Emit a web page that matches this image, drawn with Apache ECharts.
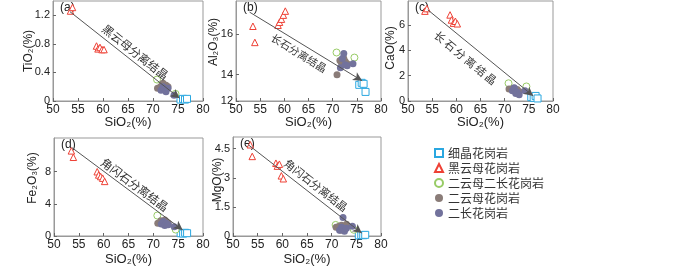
<!DOCTYPE html>
<html>
<head>
<meta charset="utf-8">
<script src="https://cdn.jsdelivr.net/npm/echarts@6/dist/echarts.min.js"></script>
<style>
html, body { margin: 0; padding: 0; background: #fff; }
#main { width: 700px; height: 267px; }
</style>
</head>
<body>
<div id="main"></div>
<script>
// rock groups (legend order)
var groupNames = ['细晶花岗岩', '黑云母花岗岩', '二云母二长花岗岩', '二云母花岗岩', '二长花岗岩'];

// SiO2 (%) of each group
var siFine = [75.5, 76.0, 76.4, 76.8];
var siBio = [53.5, 53.9, 58.7, 59.0, 59.4, 59.8, 60.2];
var siTwoMicaMonzo = [70.8, 74.5];
var siTwoMica = [70.9, 71.5, 71.8, 72.0, 72.3, 72.6, 73.0];
var siMonzo = [71.6, 72.0, 72.3, 72.6, 73.0, 74.2];

// TiO2
var tiFine = [0.02, 0.03, 0.02, 0.03];
var tiBio = [1.26, 1.31, 0.77, 0.73, 0.75, 0.72, 0.72];
var tiTwoMicaMonzo = [0.30, 0.10];
var tiTwoMica = [0.18, 0.20, 0.22, 0.25, 0.17, 0.22, 0.20];
var tiMonzo = [0.15, 0.20, 0.17, 0.13, 0.18, 0.08];

// Al2O3
var alFine = [13.5, 13.6, 13.55, 13.15];
var alBio = [16.4, 15.6, 16.45, 16.6, 16.75, 16.95, 17.15];
var alTwoMicaMonzo = [15.1, 14.85];
var alTwoMica = [14.0, 14.7, 14.6, 14.5, 14.8, 14.65, 14.55];
var alMonzo = [14.35, 14.8, 15.05, 14.5, 14.45, 14.55];

// CaO
var caFine = [0.30, 0.25, 0.40, 0.20];
var caBio = [7.1, 7.3, 6.8, 6.4, 6.15, 6.3, 6.1];
var caTwoMicaMonzo = [1.4, 1.15];
var caTwoMica = [0.95, 0.9, 1.0, 0.8, 0.7, 0.9, 0.75];
var caMonzo = [0.8, 1.05, 0.6, 0.7, 0.5, 0.8];

// Fe2O3
var feFine = [0.35, 0.30, 0.40, 0.35];
var feBio = [10.6, 9.8, 8.0, 7.6, 7.4, 7.2, 6.8];
var feTwoMicaMonzo = [2.55, 0.8];
var feTwoMica = [1.6, 1.9, 1.7, 1.5, 2.0, 1.8, 1.6];
var feMonzo = [1.5, 1.8, 1.3, 1.6, 1.4, 1.15];

// MgO
var mgFine = [0.03, 0.05, 0.04, 0.06];
var mgBio = [4.7, 4.1, 3.75, 3.6, 3.7, 3.1, 2.95];
var mgTwoMicaMonzo = [0.57, 0.32];
var mgTwoMica = [0.45, 0.5, 0.3, 0.55, 0.35, 0.4, 0.6];
var mgMonzo = [0.3, 0.45, 0.95, 0.25, 0.4, 0.5];

// axis ranges and tick labels
var siRange = [50, 80];
var tiRange = [0, 1.4];   var tiTicks = [0, 0.4, 0.8, 1.2];
var alRange = [12.7, 17.65]; var alTicks = [12.7, 14, 16]; var alTickLabels = ['12', '14', '16'];
var caRange = [0, 7.9];   var caTicks = [0, 2, 4, 6];
var feRange = [0, 12.2];  var feTicks = [0, 4, 8];
var mgRange = [0, 5.1];   var mgTicks = [0, 1.5, 3, 4.5];

// fractionation trend arrows [start, end] in data units
var tiTrend = [[53.4, 1.25], [75.3, 0.04]];
var alTrend = [[52.8, 17.1], [76.1, 13.7]];
var caTrend = [[54.1, 7.2], [75.9, 0.4]];
var feTrend = [[53.6, 11.0], [75.9, 0.75]];
var mgTrend = [[53.1, 4.7], [76.1, 0.15]];

var chart = echarts.init(document.getElementById('main'));

var colors = ['#2aa7e0', '#ee4035', '#98cc66', '#8a7c78', '#72729c'];
var symbols = ['rect', 'triangle', 'circle', 'circle', 'circle'];
var hollow = [true, true, true, false, false];
var sizes = [7, 6.5, 7, 7, 7];

var thin = '\u2009';
var panels = [
  { tag: '(a)', name: 'TiO₂(%)', namePos: [29, 51], grid: { left: 53, top: 1, width: 150, height: 100 },
    range: tiRange, ticks: tiTicks, ys: [tiFine, tiBio, tiTwoMicaMonzo, tiTwoMica, tiMonzo],
    trend: tiTrend, note: '黑云母分离结晶', notePos: 'insideMiddleTop', noteSize: 11.5,
    pad: [0, 0, 0, 13], dist: 3, xGap: 15 },
  { tag: '(b)', name: 'Al₂O₃(%)', namePos: [214, 42], grid: { left: 236, top: 1, width: 145, height: 100 },
    range: alRange, ticks: alTicks, tickLabels: alTickLabels, ys: [alFine, alBio, alTwoMicaMonzo, alTwoMica, alMonzo],
    trend: alTrend, note: '长石分离结晶', notePos: 'insideMiddleBottom', noteSize: 10.5,
    pad: [0, 5, 0, 0], dist: 4, xGap: 15 },
  { tag: '(c)', name: 'CaO(%)', namePos: [391, 48], grid: { left: 408, top: 1, width: 145, height: 100 },
    range: caRange, ticks: caTicks, ys: [caFine, caBio, caTwoMicaMonzo, caTwoMica, caMonzo],
    trend: caTrend, note: '长石分离结晶'.split('').join(thin), notePos: 'insideMiddleBottom', noteSize: 11,
    pad: [0, 17, 0, 0], dist: 8, xGap: 15 },
  { tag: '(d)', name: 'Fe₂O₃(%)', namePos: [33, 178], grid: { left: 54, top: 138, width: 149, height: 100 },
    range: feRange, ticks: feTicks, ys: [feFine, feBio, feTwoMicaMonzo, feTwoMica, feMonzo],
    trend: feTrend, note: '角闪石分离结晶', notePos: 'insideMiddleTop', noteSize: 11.5,
    pad: [0, 0, 0, 7], dist: 2, xGap: 17 },
  { tag: '(e)', name: 'MgO(%)', namePos: [218, 180], grid: { left: 233, top: 137, width: 148, height: 101 },
    range: mgRange, ticks: mgTicks, ys: [mgFine, mgBio, mgTwoMicaMonzo, mgTwoMica, mgMonzo],
    trend: mgTrend, note: '角闪石分离结晶', notePos: 'insideMiddleTop', noteSize: 11,
    pad: [0, 0, 0, 13], dist: 4, xGap: 17 }
];
var siGroups = [siFine, siBio, siTwoMicaMonzo, siTwoMica, siMonzo];

var axisFont = 'Liberation Sans';
var cjkFont = 'Noto Sans CJK SC';
var frame = '#999';

var grids = [], xAxes = [], yAxes = [], series = [], graphics = [];

panels.forEach(function (p, i) {
  grids.push(Object.assign({ show: true, borderColor: frame, borderWidth: 1, containLabel: false }, p.grid));
  xAxes.push({
    type: 'value', gridIndex: i, min: siRange[0], max: siRange[1], interval: 5,
    name: 'SiO₂(%)', nameLocation: 'middle', nameGap: p.xGap, nameMoveOverlap: false,
    nameTextStyle: { fontFamily: axisFont, fontSize: 13, color: '#222' },
    axisLine: { show: true, lineStyle: { color: frame } },
    axisTick: { inside: true, length: 3, lineStyle: { color: '#666' } },
    axisLabel: { fontFamily: axisFont, fontSize: 12, color: '#222', margin: 3 },
    splitLine: { show: false }
  });
  var labels = p.tickLabels;
  var ticks = p.ticks;
  yAxes.push({
    type: 'value', gridIndex: i, min: p.range[0], max: p.range[1],
    axisLine: { show: true, lineStyle: { color: frame } },
    axisTick: { inside: true, length: 3, customValues: ticks, lineStyle: { color: '#666' } },
    axisLabel: {
      customValues: ticks, fontFamily: axisFont, fontSize: 11, color: '#222', margin: 3,
      formatter: function (v) {
        if (labels) { return labels[ticks.indexOf(v)]; }
        return String(Math.round(v * 10) / 10);
      }
    },
    splitLine: { show: false }
  });
  groupNames.forEach(function (g, k) {
    var data = siGroups[k].map(function (x, j) { return [x, p.ys[k][j]]; });
    series.push({
      type: 'scatter', name: g, xAxisIndex: i, yAxisIndex: i,
      symbol: symbols[k], symbolSize: sizes[k],
      itemStyle: hollow[k]
        ? { color: '#fff', borderColor: colors[k], borderWidth: 1, opacity: 1 }
        : { color: colors[k], borderColor: colors[k], borderWidth: 0, opacity: 1 },
      data: data
    });
  });
  series.push({
    type: 'line', name: 'trend' + i, xAxisIndex: i, yAxisIndex: i, data: [],
    markLine: {
      silent: true, symbol: ['none', 'arrow'], symbolSize: [7, 9],
      lineStyle: { color: '#555', width: 1, type: 'solid' },
      label: {
        show: true, position: p.notePos, formatter: p.note, distance: p.dist,
        padding: p.pad,
        fontFamily: cjkFont, fontSize: p.noteSize, color: '#333'
      },
      data: [[{ coord: p.trend[0] }, { coord: p.trend[1] }]]
    }
  });
  // panel tag
  graphics.push({
    type: 'text', left: p.grid.left + 7, top: p.grid.top + 1,
    style: { text: p.tag, fontFamily: axisFont, fontSize: 12, fill: '#222' }
  });
  // y axis title
  graphics.push({
    type: 'text', x: p.namePos[0], y: p.namePos[1], rotation: Math.PI / 2,
    style: { text: p.name, fontFamily: axisFont, fontSize: 12, fill: '#222', align: 'center', verticalAlign: 'middle' }
  });
});

chart.setOption({
  animation: false,
  backgroundColor: '#fff',
  grid: grids,
  xAxis: xAxes,
  yAxis: yAxes,
  legend: {
    data: groupNames, orient: 'vertical', left: 429, top: 142,
    itemWidth: 8, itemHeight: 8, itemGap: 3,
    textStyle: { fontFamily: cjkFont, fontSize: 12, color: '#333' }
  },
  graphic: graphics,
  series: series
});
</script>
</body>
</html>
